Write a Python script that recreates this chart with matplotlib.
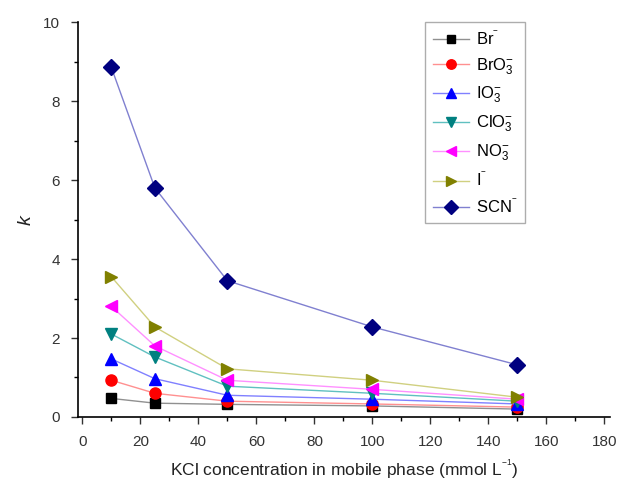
import matplotlib
matplotlib.use("Agg")
import matplotlib.pyplot as plt
from matplotlib.ticker import MultipleLocator

plt.rcParams['font.family'] = ['Liberation Sans', 'DejaVu Sans']
plt.rcParams['mathtext.fontset'] = 'custom'
plt.rcParams['mathtext.rm'] = 'Liberation Sans'
plt.rcParams['mathtext.it'] = 'Liberation Sans:italic'

conc = [10, 25, 50, 100, 150]
labels = [r'Br$^{^{-}}$', r'BrO$_3^{-}$', r'IO$_3^{-}$', r'ClO$_3^{-}$', r'NO$_3^{-}$', r'I$^{^{-}}$', r'SCN$^{^{-}}$']
k_br = [0.47, 0.35, 0.32, 0.28, 0.20]
k_bro3 = [0.93, 0.60, 0.40, 0.33, 0.25]
k_io3 = [1.47, 0.97, 0.55, 0.45, 0.33]
k_clo3 = [2.10, 1.52, 0.78, 0.60, 0.40]
k_no3 = [2.80, 1.80, 0.93, 0.70, 0.45]
k_i = [3.55, 2.28, 1.22, 0.93, 0.50]
k_scn = [8.85, 5.80, 3.45, 2.28, 1.32]
series = [k_br, k_bro3, k_io3, k_clo3, k_no3, k_i, k_scn]

colors = ['#000000', '#ff0000', '#0000ff', '#008080', '#ff00ff', '#808000', '#000080']
linecolors = ['#909090', '#ff9090', '#8080ff', '#60c0c0', '#ff90ff', '#d0d080', '#8080d0']
markers = ['s', 'o', '^', 'v', '<', '>', 'D']
sizes = [7, 8, 9, 9, 9, 9, 8]

fig = plt.figure(figsize=(6.24, 4.9), dpi=100)
ax = fig.add_axes([0.125, 0.149, 0.853, 0.806])

for vals, lab, c, lc, m, s in zip(series, labels, colors, linecolors, markers, sizes):
    ax.plot(conc, vals, color=lc, lw=1.0, marker=m, markersize=s,
            markerfacecolor=c, markeredgecolor=c, label=lab)

ax.set_xlim(-1.5, 182)
ax.set_ylim(0, 10)
ax.xaxis.set_major_locator(MultipleLocator(20))
ax.xaxis.set_minor_locator(MultipleLocator(10))
ax.yaxis.set_major_locator(MultipleLocator(2))
ax.yaxis.set_minor_locator(MultipleLocator(1))
ax.spines['top'].set_visible(False)
ax.spines['right'].set_visible(False)
ax.tick_params(which='major', direction='out', length=5, width=1, labelsize=11, colors='#333333', pad=8)
ax.tick_params(which='minor', direction='out', length=3, width=1)
for sp in ax.spines.values():
    sp.set_linewidth(1.2)

ax.set_xlabel(r'KCl concentration in mobile phase (mmol L$^{^{-1}}$)', fontsize=12.5, color='#222222', labelpad=6)
ax.set_ylabel(r'$k$', fontsize=14, color='#222222', labelpad=6)

leg = ax.legend(loc='upper left', bbox_to_anchor=(0.652, 1.0), fontsize=12,
                frameon=True, fancybox=False, edgecolor='#999999', borderaxespad=0,
                handlelength=2.2, labelspacing=0.5, borderpad=0.45, handletextpad=0.4,
                markerscale=0.85)
leg.get_frame().set_linewidth(1.0)

fig.savefig('out.png', dpi=100)
